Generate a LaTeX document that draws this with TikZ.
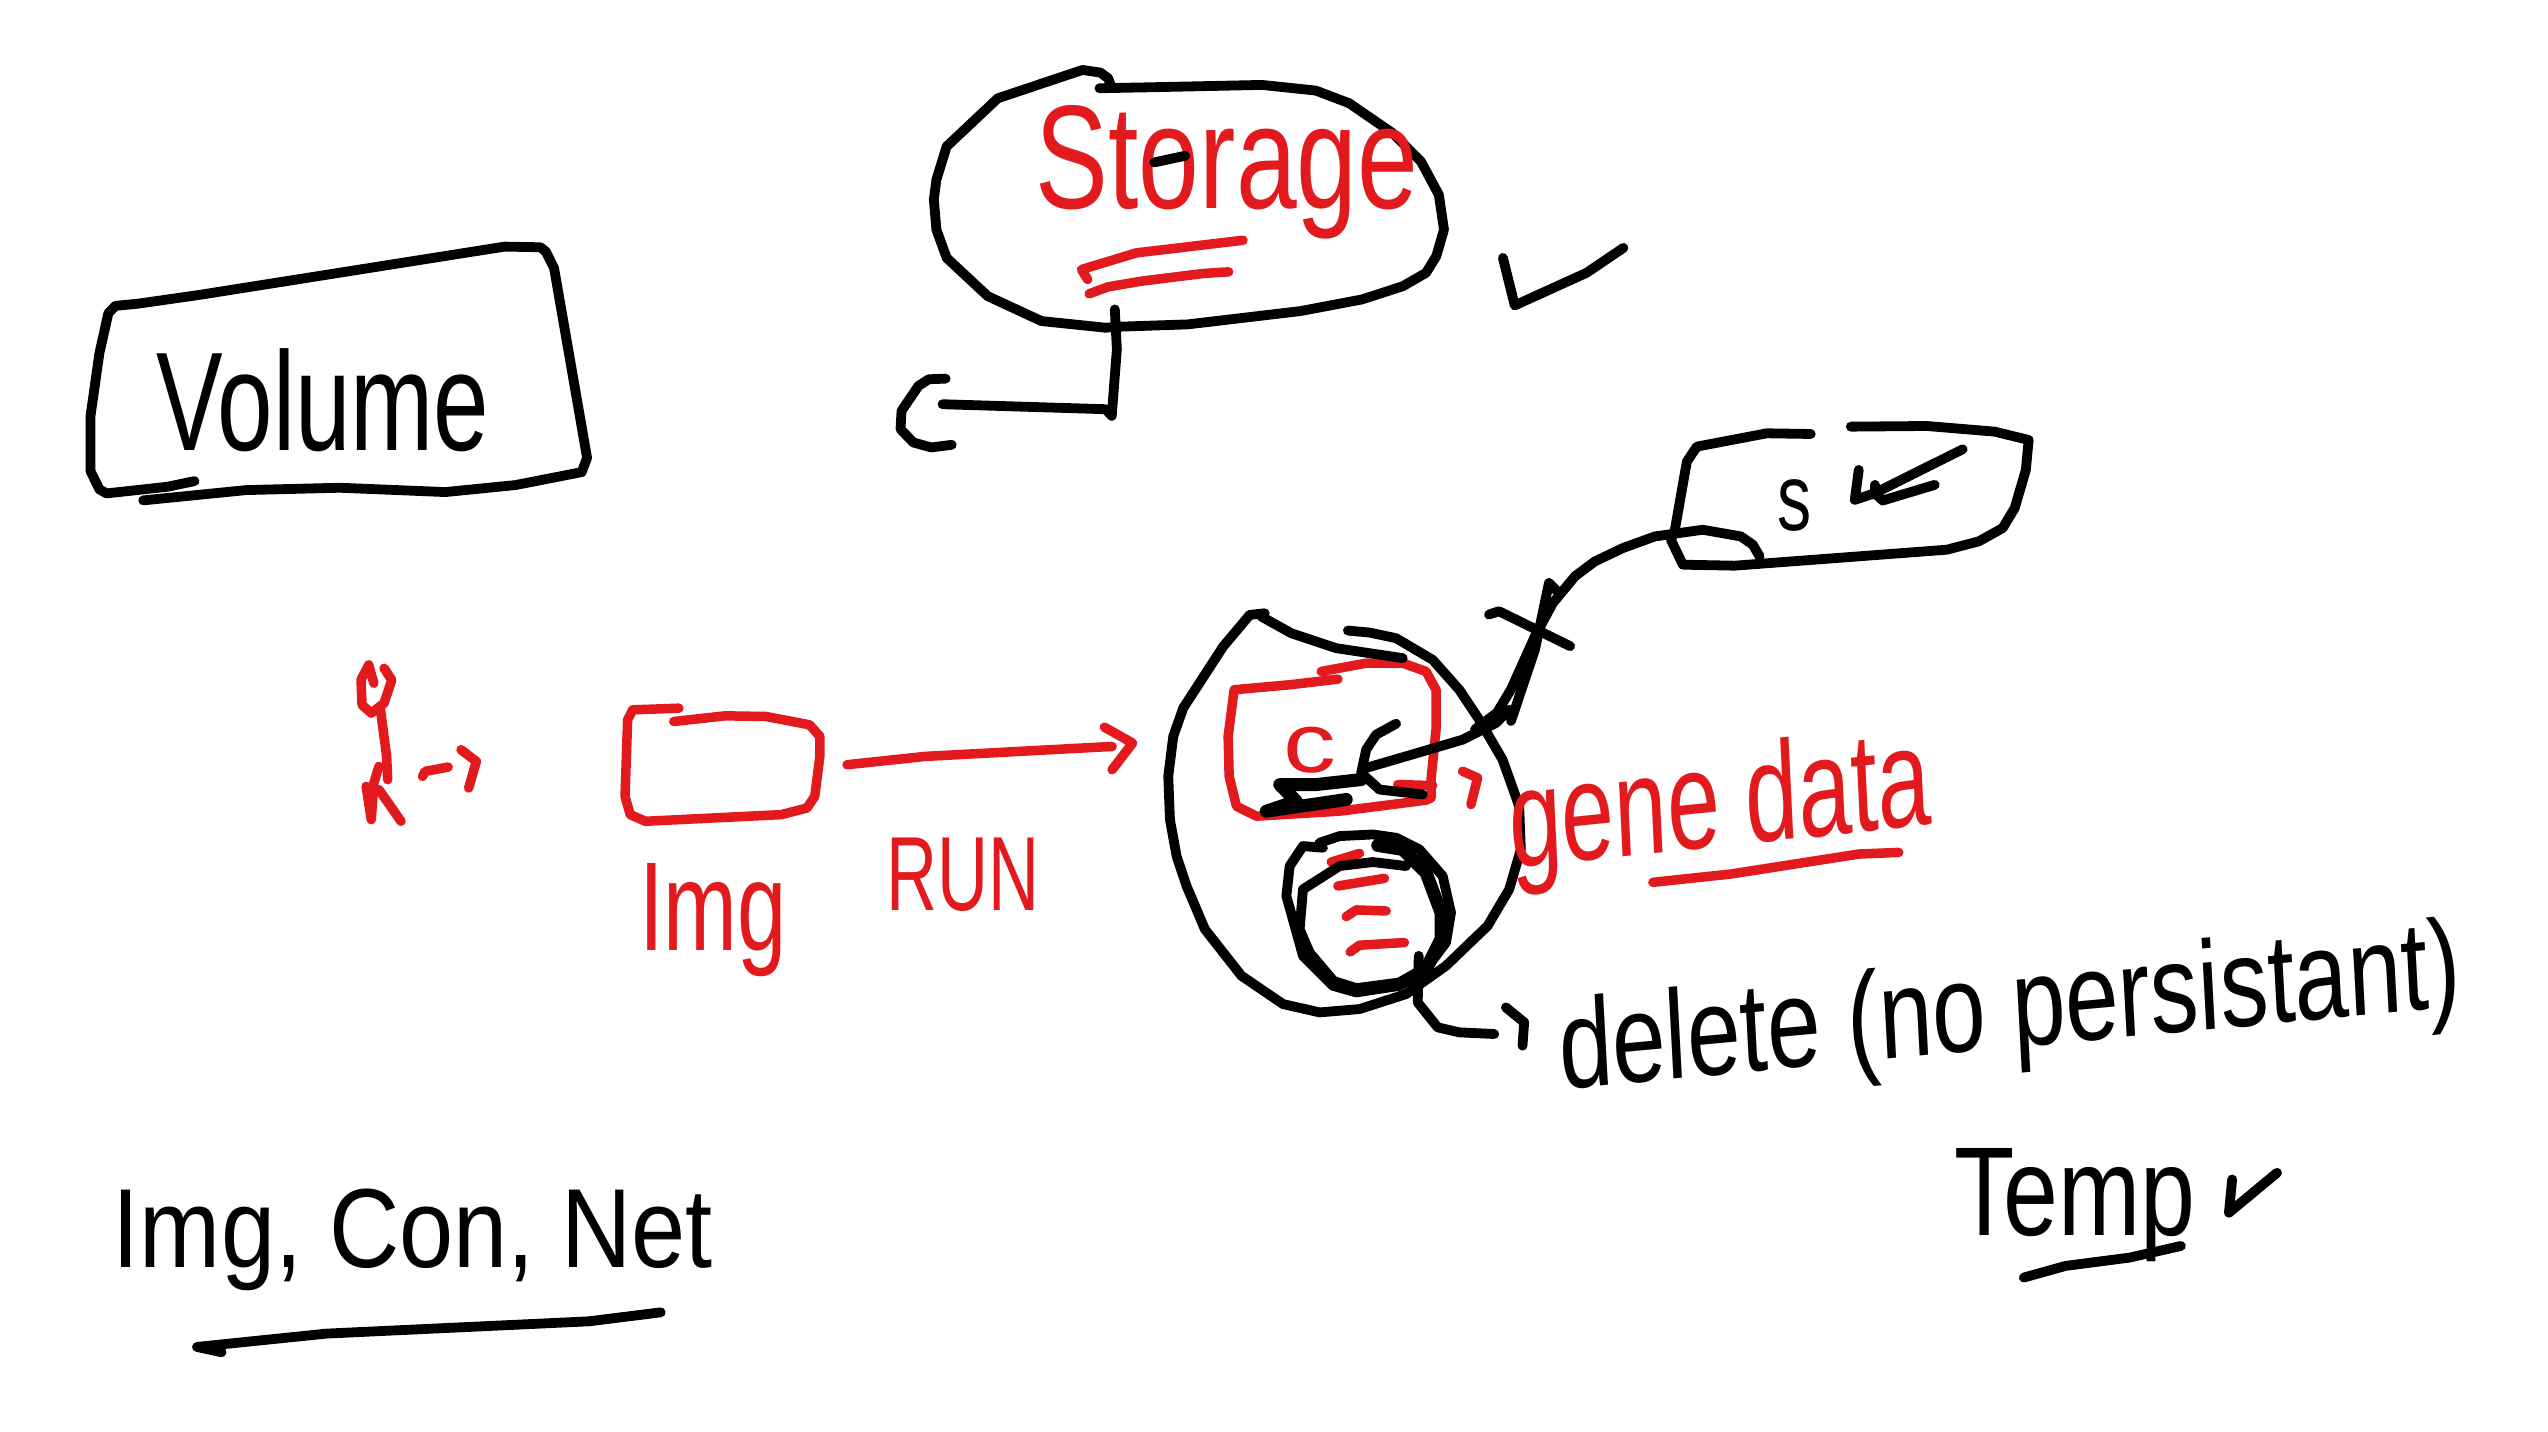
\documentclass[tikz,border=0pt]{standalone}
\usepackage{fontspec}
\setmainfont{Liberation Sans}
\definecolor{inkred}{RGB}{226,26,30}
\definecolor{inkblack}{RGB}{0,0,0}
\tikzset{
  ink/.style={line width=0.098cm,line cap=round,line join=round,draw=inkblack},
  heavyink/.style={line width=0.13cm,line cap=round,line join=round,draw=inkblack},
  redink/.style={line width=0.095cm,line cap=round,line join=round,draw=inkred},
  word/.style={inner sep=0pt,text=inkblack},
  redword/.style={inner sep=0pt,text=inkred},
}
\newcommand{\fsz}[1]{\fontsize{#1}{#1}\selectfont}
\begin{document}
\begin{tikzpicture}
\useasboundingbox[fill=white] (0,0) rectangle (25.48,-14.32);
% Volume box
\begin{scope}[shift={(0.6cm,-2.2cm)},x=0.00359cm,y=-0.00333cm]
\draw[ink] (375,785) -- (300,802) -- (130,822) -- (110,810) -- (85,755) -- (85,590) -- (110,400) -- (135,280) -- (155,258) -- (215,252) -- (390,225) -- (1240,80) -- (1340,82) -- (1355,95) -- (1378,145) -- (1470,715) -- (1455,758) -- (1270,797) -- (1075,818) -- (780,805) -- (520,812) -- (232,843);
\end{scope}
\node[word,font=\fsz{40},xscale=.71] (volume) at (3.23,-4.0) {Volume};
% Storage
\begin{scope}[shift={(8.8cm,-0.5cm)},x=0.00513cm,y=-0.00333cm]
\draw[ink] (428,115) -- (530,112) -- (745,105) -- (850,122) -- (915,160) -- (1000,250) -- (1055,335) -- (1090,435) -- (1100,540) -- (1085,620) -- (1065,670) -- (1020,710) -- (940,750) -- (820,785) -- (600,825) -- (465,832) -- (440,835) -- (315,815) -- (210,740) -- (130,625) -- (110,540) -- (105,450) -- (110,390) -- (130,290) -- (230,145) -- (395,60) -- (430,68) -- (445,85) -- (450,105);
\draw[redink] (405,690) -- (393,660) -- (500,610) -- (708,572);
\draw[redink] (408,733) -- (445,712) -- (510,695) -- (630,672) -- (680,667);
\draw[ink] (458,780) -- (462,900) -- (452,1100) -- (440,1080) -- (122,1065);
\draw[ink] (128,988) -- (95,990) -- (75,1010) -- (42,1085) -- (40,1140) -- (65,1180) -- (100,1195) -- (140,1187);
\draw[ink] (1215,625) -- (1238,768) -- (1378,670) -- (1450,595);
\end{scope}
\node[redword,font=\fsz{42},xscale=.74] (storage) at (12.27,-1.72) {Storage};
\begin{scope}[shift={(8.8cm,-0.5cm)},x=0.00513cm,y=-0.00333cm]
\draw[ink] (535,338) -- (595,318);
\end{scope}
% Container
\begin{scope}[shift={(11.4cm,-5.8cm)},x=0.00333cm,y=-0.00333cm]
\draw[redink] (545,275) -- (680,250) -- (790,250) -- (860,275) -- (890,330) -- (890,450) -- (875,600) -- (875,655) -- (860,662) -- (600,695) -- (350,710) -- (290,680) -- (268,590) -- (265,470) -- (283,330) -- (450,315) -- (595,298);
\draw[redink] (775,615) -- (880,618);
\draw[redink] (575,848) -- (660,822);
\draw[redink] (595,920) -- (735,897);
\draw[redink] (620,1012) -- (650,992) -- (740,995);
\draw[redink] (632,1118) -- (660,1098) -- (795,1090);
\draw[redink] (970,575) -- (1015,595) -- (995,675);
\draw[ink] (330,105) -- (250,200) -- (130,385) -- (100,470) -- (85,590) -- (90,720) -- (110,830) -- (140,920) -- (195,1050) -- (305,1190) -- (430,1275) -- (540,1300) -- (660,1290) -- (800,1245) -- (920,1160) -- (1045,1040) -- (1110,930) -- (1145,810) -- (1140,680) -- (1090,540) -- (1020,420) -- (960,330) -- (880,240) -- (770,175) -- (690,158) -- (625,152);
\draw[ink] (330,105) -- (375,100);
\draw[ink] (365,110) -- (455,160) -- (590,205) -- (790,235);
\draw[ink] (770,432) -- (710,465) -- (680,510) -- (665,580) -- (720,630) -- (850,645);
\draw[ink] (680,565) -- (800,530) -- (970,480) -- (1070,430) -- (1110,390);
\draw[heavyink] (665,600) -- (530,615) -- (420,615) -- (470,665) -- (380,695) -- (620,660);
\draw[ink] (550,805) -- (490,800) -- (450,860) -- (440,950) -- (490,1130) -- (580,1220) -- (650,1240) -- (780,1220) -- (860,1170) -- (920,1090) -- (935,1000) -- (910,890) -- (840,810) -- (770,775) -- (700,765) -- (600,770) -- (540,790);
\draw[heavyink] (715,798) -- (790,810) -- (860,880) -- (905,1000) -- (905,1080) -- (860,1170) -- (780,1215) -- (650,1232) -- (580,1210);
\draw[ink] (800,860) -- (700,848) -- (600,860) -- (490,930) -- (480,1050) -- (510,1120) -- (590,1215);
\draw[ink] (838,1130) -- (835,1270) -- (895,1345) -- (960,1360) -- (1065,1365);
\draw[ink] (1100,1285) -- (1155,1330) -- (1150,1400);
\end{scope}
\node[redword,font=\fsz{24},xscale=1.25] (cword) at (13.1,-7.5) {c};
% S box and X
\begin{scope}[shift={(14.75cm,-4.2cm)},x=0.0040cm,y=-0.00333cm]
\draw[ink] (35,585) -- (60,575) -- (238,680);
\draw[ink] (90,905) -- (150,690) -- (185,490) -- (210,520);
\draw[ink] (0,930) -- (55,880) -- (90,810) -- (150,650) -- (195,550) -- (250,470) -- (300,425) -- (370,385) -- (450,350) -- (570,330) -- (665,350) -- (695,375) -- (712,410);
\draw[ink] (840,42) -- (730,40) -- (555,80) -- (530,125) -- (500,330) -- (490,360) -- (520,435) -- (650,438) -- (1180,390) -- (1260,365) -- (1320,325) -- (1350,265) -- (1378,150) -- (1385,60) -- (1300,35) -- (1130,18) -- (940,20);
\draw[ink] (960,150) -- (950,240) -- (1000,220);
\draw[ink] (1220,88) -- (1000,220) -- (1020,242) -- (1150,195);
\draw[ink] (1000,195) -- (1000,220);
\draw[redink] (445,1390) -- (640,1365) -- (960,1305) -- (1060,1300);
\end{scope}
\node[word,font=\fsz{27},xscale=.72] (sword) at (17.95,-5.05) {s};
\node[redword,font=\fsz{40},xscale=.675,rotate=4] (gene) at (17.2,-8.1) {gene data};
% Stick figure, image
\begin{scope}[shift={(3.2cm,-6.4cm)},x=0.00513cm,y=-0.00333cm]
\draw[redink] (125,85) -- (140,120) -- (125,190) -- (100,220) -- (82,195) -- (80,120) -- (95,75) -- (105,130);
\draw[redink] (118,210) -- (130,350) -- (132,420);
\draw[redink] (115,380) -- (105,430) -- (100,540) -- (90,440);
\draw[redink] (115,450) -- (158,545);
\draw[redink] (200,410) -- (205,395) -- (250,382);
\draw[redink] (275,330) -- (305,365) -- (290,445);
\draw[redink] (700,205) -- (610,210) -- (600,240) -- (595,470) -- (605,525) -- (635,545) -- (900,525) -- (950,505) -- (965,470) -- (975,350) -- (975,290) -- (955,255) -- (870,230) -- (790,228) -- (690,245);
\draw[redink] (1028,375) -- (1180,350) -- (1545,320);
\draw[redink] (1530,262) -- (1585,310) -- (1545,390);
\end{scope}
\node[redword,font=\fsz{36},xscale=.7] (img) at (7.13,-9.2) {Img};
\node[redword,font=\fsz{30},xscale=.67] (run) at (9.63,-8.75) {RUN};
% Delete, Temp
\node[word,font=\fsz{36},xscale=.76,rotate=4] (delete) at (20.1,-10.15) {delete (no persistant)};
\node[word,font=\fsz{36},xscale=.78] (temp) at (20.75,-12.05) {Temp};
\begin{scope}[shift={(15.4cm,-9.2cm)},x=0.00641cm,y=-0.00333cm]
\draw[ink] (755,1075) -- (820,1040) -- (920,1015) -- (1000,980);
\draw[ink] (1080,780) -- (1075,880) -- (1150,760);
\end{scope}
% Bottom label
\node[word,font=\fsz{32},xscale=.865] (list) at (4.13,-12.4) {Img, Con, Net};
\begin{scope}[shift={(0.8cm,-11.6cm)},x=0.0041cm,y=-0.00333cm]
\draw[ink] (345,578) -- (285,562) -- (600,522) -- (1240,485) -- (1415,458);
\end{scope}
\end{tikzpicture}
\end{document}
